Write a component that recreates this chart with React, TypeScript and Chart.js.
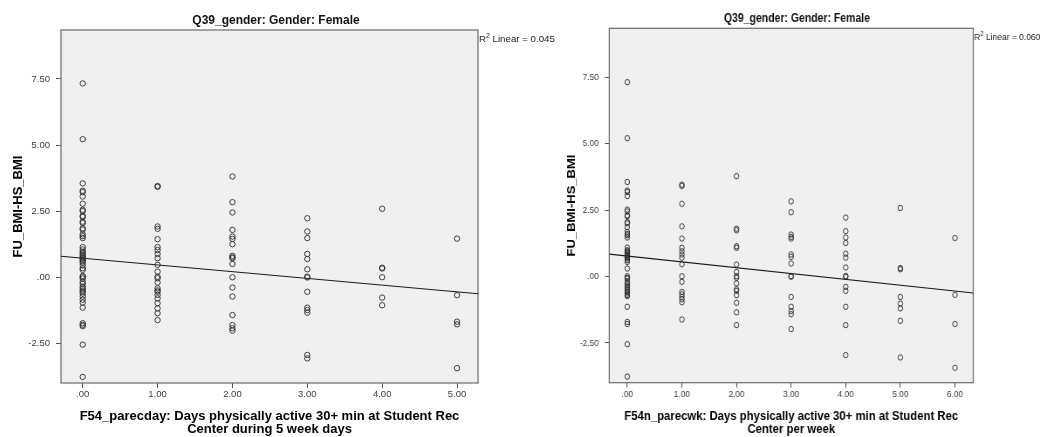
import React, { useEffect, useRef } from "react";
import { Chart, registerables } from "chart.js";

Chart.register(...registerables);

const FONT = '"Liberation Sans", Arial, Helvetica, sans-serif';

// Shared text and y axis
const panelTitle = "Q39_gender: Gender: Female";
const yAxisTitle = "FU_BMI-HS_BMI";
const yMin = -4.0;
const yMax = 9.35;
const yTickValues = [-2.5, 0, 2.5, 5, 7.5];
const yTickLabels = ["-2.50", ".00", "2.50", "5.00", "7.50"];

// Panel 1: weekday rec-center days
const parecdayTitle = [
  "F54_parecday: Days physically active 30+ min at Student Rec",
  "Center during 5 week days",
];
const parecdayDays = [0, 1, 2, 3, 4, 5];
const parecdayTickLabels = [".00", "1.00", "2.00", "3.00", "4.00", "5.00"];
const parecdayBmiChange: number[][] = [
  [7.33, 5.22, 3.55, 3.27, 3.22, 3.05, 2.78, 2.55, 2.5, 2.32, 2.28, 2.1, 2.05, 1.85, 1.8, 1.62, 1.55, 1.48,
    1.14, 1.05, 0.97, 0.92, 0.85, 0.8, 0.75, 0.7, 0.66, 0.6, 0.55, 0.45, 0.34, 0.28, 0.05, 0.0, -0.05,
    -0.17, -0.25, -0.36, -0.42, -0.5, -0.55, -0.62, -0.73, -0.85, -0.96, -1.15, -1.74, -1.8, -1.85, -2.55, -3.77],
  [3.45, 3.42, 1.92, 1.83, 1.44, 1.14, 1.03, 0.88, 0.72, 0.47, 0.21, 0.02, -0.04, -0.2, -0.42, -0.5, -0.55,
    -0.67, -0.8, -0.98, -1.18, -1.36, -1.62],
  [3.81, 2.84, 2.45, 1.79, 1.54, 1.45, 1.25, 0.81, 0.75, 0.72, 0.5, 0.0, -0.39, -0.73, -1.43, -1.81, -1.93, -2.02],
  [2.23, 1.73, 1.48, 0.88, 0.69, 0.3, 0.02, -0.01, -0.55, -1.15, -1.24, -1.34, -2.94, -3.07],
  [2.59, 0.36, 0.33, 0.0, -0.77, -1.06],
  [1.46, -0.68, -1.68, -1.78, -3.44],
];
const parecdayIntercept = 0.72;
const parecdaySlope = -0.255;
const parecdayR2 = "0.045";
const parecdayXMin = -0.29;
const parecdayXMax = 5.28;

// Panel 2: rec-center days per week
const parecwkTitle = [
  "F54n_parecwk: Days physically active 30+ min at Student Rec",
  "Center per week",
];
const parecwkDays = [0, 1, 2, 3, 4, 5, 6];
const parecwkTickLabels = [".00", "1.00", "2.00", "3.00", "4.00", "5.00", "6.00"];
const parecwkBmiChange: number[][] = [
  [7.32, 5.21, 3.56, 3.24, 3.18, 3.03, 2.52, 2.45, 2.3, 2.27, 2.05, 2.0, 1.86, 1.68, 1.6, 1.55, 1.47, 1.09,
    0.99, 0.95, 0.9, 0.86, 0.8, 0.76, 0.72, 0.68, 0.62, 0.55, 0.3, 0.01, -0.05, -0.08, -0.2, -0.26, -0.33,
    -0.39, -0.45, -0.52, -0.58, -0.64, -0.7, -0.74, -1.14, -1.71, -1.79, -2.55, -3.77],
  [3.46, 3.41, 2.74, 1.89, 1.43, 1.08, 0.95, 0.83, 0.71, 0.46, 0.01, -0.2, -0.58, -0.67, -0.77, -0.86, -0.97, -1.62],
  [3.78, 1.8, 1.74, 1.14, 1.08, 0.45, 0.17, 0.01, -0.05, -0.26, -0.48, -0.54, -0.7, -0.99, -1.35, -1.83],
  [2.83, 2.42, 1.58, 1.49, 1.43, 0.83, 0.74, 0.49, 0.01, -0.01, -0.77, -1.14, -1.3, -1.42, -1.98],
  [2.22, 1.71, 1.47, 1.26, 0.86, 0.71, 0.34, 0.02, -0.01, -0.39, -0.54, -1.14, -1.83, -2.96],
  [2.58, 0.32, 0.27, -0.77, -1.02, -1.2, -1.67, -3.05],
  [1.45, -0.69, -1.79, -3.44],
];
const parecwkIntercept = 0.77;
const parecwkSlope = -0.22;
const parecwkR2 = "0.060";
const parecwkXMin = -0.33;
const parecwkXMax = 6.335;

type PanelProps = {
  left: number;
  width: number;
  cssWidth: number;
  height: number;
  padLeft: number;
  padRight: number;
  plotTop: number;
  yAxisWidth: number;
  yTickPad: number;
  xAxisHeight: number;
  xMin: number;
  xMax: number;
  xValues: number[];
  xTickLabels: string[];
  columns: number[][];
  intercept: number;
  slope: number;
  r2: string;
  xTitle: string[];
};

function panelPlugin(r2: string) {
  return {
    id: "spssPanel",
    beforeDraw(chart: any) {
      const { ctx, chartArea: a } = chart;
      ctx.save();
      ctx.fillStyle = "#f0f0f0";
      ctx.fillRect(a.left, a.top, a.right - a.left, a.bottom - a.top);
      ctx.restore();
    },
    beforeDatasetsDraw(chart: any) {
      const { ctx, chartArea: a } = chart;
      ctx.save();
      ctx.strokeStyle = "#6a6a6a";
      ctx.lineWidth = 1.2;
      ctx.strokeRect(a.left, a.top, a.right - a.left, a.bottom - a.top);
      ctx.restore();
    },
    afterDraw(chart: any) {
      const { ctx, chartArea: a } = chart;
      ctx.save();
      ctx.fillStyle = "#111";
      ctx.textBaseline = "middle";
      ctx.textAlign = "center";
      ctx.font = `bold 12px ${FONT}`;
      ctx.fillText(panelTitle, (a.left + a.right) / 2 + 6.5, a.top - 9.8);

      // R² annotation beside the frame
      ctx.textAlign = "left";
      ctx.fillStyle = "#222";
      const x0 = a.right + 1;
      const yc = a.top + 9;
      ctx.font = `9.7px ${FONT}`;
      ctx.fillText("R", x0, yc);
      const wR = ctx.measureText("R").width;
      ctx.font = `7px ${FONT}`;
      ctx.fillText("2", x0 + wR, yc - 3);
      const w2 = ctx.measureText("2").width;
      ctx.font = `9.7px ${FONT}`;
      ctx.fillText(` Linear = ${r2}`, x0 + wR + w2, yc);
      ctx.restore();
    },
  };
}

function Panel(p: PanelProps) {
  const ref = useRef<HTMLCanvasElement | null>(null);

  useEffect(() => {
    if (!ref.current) return;
    const points = p.columns.flatMap((col, i) => col.map((y) => ({ x: p.xValues[i], y })));
    const fitLine = [
      { x: p.xMin, y: p.intercept + p.slope * p.xMin },
      { x: p.xMax, y: p.intercept + p.slope * p.xMax },
    ];
    const tickColor = "#3c3c3c";
    const chart = new Chart(ref.current, {
      type: "scatter",
      data: {
        datasets: [
          {
            data: points,
            pointRadius: 2.7,
            pointBorderWidth: 1,
            pointBackgroundColor: "rgba(0,0,0,0)",
            pointBorderColor: "rgba(45,45,45,0.9)",
            borderColor: "rgba(45,45,45,0.9)",
            backgroundColor: "rgba(0,0,0,0)",
          },
          {
            data: fitLine,
            showLine: true,
            pointRadius: 0,
            borderColor: "#1a1a1a",
            borderWidth: 1.1,
            fill: false,
          },
        ],
      },
      options: {
        responsive: false,
        animation: false,
        events: [],
        layout: {
          padding: { left: p.padLeft, right: p.padRight, top: p.plotTop, bottom: 0 },
        },
        plugins: {
          legend: { display: false },
          tooltip: { enabled: false },
          title: { display: false },
        },
        scales: {
          x: {
            type: "linear",
            min: p.xMin,
            max: p.xMax,
            afterBuildTicks: (s: any) => {
              s.ticks = p.xValues.map((v) => ({ value: v }));
            },
            afterFit: (s: any) => {
              s.height = p.xAxisHeight;
            },
            ticks: {
              autoSkip: false,
              maxRotation: 0,
              padding: 1,
              color: tickColor,
              font: { family: FONT, size: 9.5 },
              callback: (_v: any, i: number) => p.xTickLabels[i],
            },
            grid: {
              display: true,
              drawOnChartArea: false,
              drawTicks: true,
              tickLength: 5,
              color: "#555",
            },
            border: { display: false },
            title: {
              display: true,
              text: p.xTitle,
              color: "#000",
              font: { family: FONT, size: 13, weight: "bold", lineHeight: 0.98 },
              padding: { top: 0, bottom: 1.2 },
            },
          },
          y: {
            type: "linear",
            min: yMin,
            max: yMax,
            afterBuildTicks: (s: any) => {
              s.ticks = yTickValues.map((v) => ({ value: v }));
            },
            afterFit: (s: any) => {
              s.width = p.yAxisWidth;
            },
            ticks: {
              autoSkip: false,
              padding: p.yTickPad,
              color: tickColor,
              font: { family: FONT, size: 9.5 },
              callback: (_v: any, i: number) => yTickLabels[i],
            },
            grid: {
              display: true,
              drawOnChartArea: false,
              drawTicks: true,
              tickLength: 5,
              color: "#555",
            },
            border: { display: false },
            title: {
              display: true,
              text: yAxisTitle,
              color: "#000",
              font: { family: FONT, size: 13, weight: "bold", lineHeight: 1.2 },
              padding: { top: 3.2, bottom: 0 },
            },
          },
        },
      },
      plugins: [panelPlugin(p.r2)],
    } as any);
    return () => chart.destroy();
  }, []);

  return (
    <canvas
      ref={ref}
      width={p.width}
      height={p.height}
      style={{ position: "absolute", left: p.left, top: 0, width: p.cssWidth, height: p.height, display: "block" }}
    />
  );
}

export default function App() {
  return (
    <div
      style={{
        position: "absolute",
        left: 0,
        top: 0,
        width: 1040,
        height: 437,
        background: "#fff",
        overflow: "hidden",
      }}
    >
      <Panel
        left={0}
        width={560}
        cssWidth={560}
        height={437}
        padLeft={7}
        padRight={82}
        plotTop={30}
        yAxisWidth={54}
        yTickPad={6}
        xAxisHeight={54}
        xMin={parecdayXMin}
        xMax={parecdayXMax}
        xValues={parecdayDays}
        xTickLabels={parecdayTickLabels}
        columns={parecdayBmiChange}
        intercept={parecdayIntercept}
        slope={parecdaySlope}
        r2={parecdayR2}
        xTitle={parecdayTitle}
      />
      {/* second panel is rendered wider and displayed horizontally condensed */}
      <Panel
        left={520}
        width={596}
        cssWidth={520}
        height={437}
        padLeft={48}
        padRight={76.5}
        plotTop={28.3}
        yAxisWidth={54.3}
        yTickPad={7}
        xAxisHeight={54.3}
        xMin={parecwkXMin}
        xMax={parecwkXMax}
        xValues={parecwkDays}
        xTickLabels={parecwkTickLabels}
        columns={parecwkBmiChange}
        intercept={parecwkIntercept}
        slope={parecwkSlope}
        r2={parecwkR2}
        xTitle={parecwkTitle}
      />
    </div>
  );
}
